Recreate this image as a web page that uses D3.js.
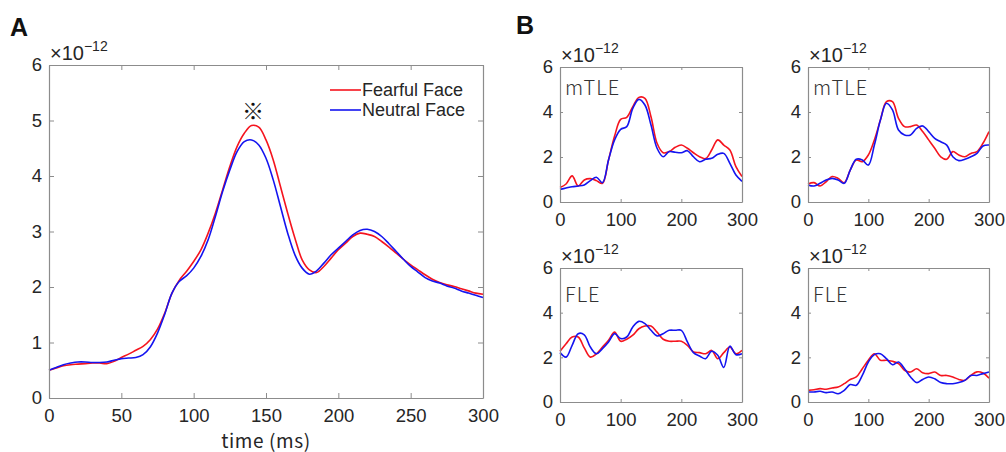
<!DOCTYPE html>
<html><head><meta charset="utf-8">
<script src="https://cdn.jsdelivr.net/npm/d3@7/dist/d3.min.js"></script>
<style>
html,body{margin:0;padding:0;background:#fff;}
svg{display:block;}
</style></head>
<body>
<svg id="chart" width="1006" height="452"></svg>
<script>
// ---------- DATA ----------
const timeA = [0,5,10,15,20,25,30,35,40,45,50,55,60,65,70,75,80,85,90,95,100,105,110,115,120,125,130,135,140,145,150,155,160,165,170,175,180,185,190,195,200,205,210,215,220,225,230,235,240,245,250,255,260,265,270,275,280,285,290,295,300];
const fearfulA = [0.50,0.54,0.58,0.60,0.61,0.62,0.63,0.63,0.62,0.66,0.73,0.79,0.86,0.93,1.05,1.24,1.53,1.89,2.12,2.28,2.46,2.67,2.97,3.33,3.75,4.17,4.53,4.77,4.91,4.88,4.65,4.29,3.81,3.33,2.88,2.49,2.31,2.26,2.37,2.52,2.67,2.79,2.91,2.97,2.95,2.91,2.82,2.72,2.61,2.50,2.40,2.31,2.22,2.14,2.08,2.04,2.01,1.97,1.93,1.89,1.87];
const neutralA = [0.50,0.55,0.60,0.63,0.65,0.65,0.64,0.64,0.65,0.68,0.71,0.72,0.73,0.78,0.92,1.17,1.51,1.89,2.10,2.20,2.34,2.55,2.85,3.27,3.72,4.11,4.44,4.62,4.65,4.56,4.32,3.93,3.45,2.97,2.58,2.34,2.23,2.29,2.43,2.58,2.70,2.82,2.94,3.02,3.04,3.00,2.91,2.78,2.64,2.50,2.37,2.27,2.17,2.11,2.07,2.02,1.98,1.93,1.89,1.85,1.81];

const timeB = [0,10,20,30,40,50,60,70,80,90,100,110,120,130,140,150,160,170,180,190,200,210,220,230,240,250,260,270,280,290,300];
const fearfulB1 = [0.64,0.80,1.16,0.71,0.98,1.04,0.95,0.83,1.87,2.93,3.67,3.76,4.24,4.65,4.61,3.79,2.61,2.19,2.24,2.43,2.53,2.39,2.19,2.01,1.93,2.31,2.76,2.53,2.31,1.57,1.13];
const neutralB1 = [0.56,0.62,0.68,0.71,0.76,0.95,1.10,0.86,1.87,2.76,3.23,3.35,4.16,4.56,4.31,3.42,2.39,2.01,2.24,2.21,2.19,2.28,2.01,1.79,1.90,1.94,2.12,2.16,1.72,1.20,0.92];
const fearfulB2 = [0.80,0.86,0.71,0.90,1.13,1.05,0.86,1.42,1.87,1.79,2.09,2.76,3.64,4.46,4.46,3.72,3.35,3.35,3.42,3.13,2.76,2.39,2.01,1.90,2.24,2.09,2.01,2.16,2.24,2.61,3.13];
const neutralB2 = [0.76,0.71,0.83,0.98,1.05,0.98,0.83,1.42,1.90,1.87,1.64,2.53,3.64,4.39,4.09,3.20,2.98,2.98,3.27,3.38,3.13,2.83,2.68,2.53,2.01,1.84,1.90,2.01,2.16,2.49,2.53];
const fearfulB3 = [2.27,2.61,2.91,2.91,2.42,2.01,2.16,2.46,2.76,3.13,2.72,2.81,2.99,3.28,3.40,3.40,3.13,2.81,2.72,2.72,2.72,2.54,2.24,2.21,2.16,2.31,1.94,2.21,2.46,2.16,2.31];
const neutralB3 = [2.21,2.01,2.54,3.06,3.01,2.46,2.16,2.39,2.69,3.06,2.84,2.91,3.36,3.61,3.51,3.21,2.96,3.06,3.21,3.21,3.21,2.69,2.21,2.06,1.94,2.27,2.09,1.55,2.50,2.12,2.16];
const fearfulB4 = [0.52,0.55,0.60,0.57,0.63,0.67,0.82,1.01,1.12,1.49,1.87,2.16,1.87,1.87,1.82,1.72,1.42,1.34,1.49,1.31,1.27,1.34,1.19,1.19,1.12,1.01,0.97,1.19,1.35,1.30,1.07];
const neutralB4 = [0.45,0.45,0.48,0.42,0.45,0.37,0.52,0.78,0.75,1.19,1.79,2.12,2.16,1.94,1.67,1.79,1.49,1.12,0.87,1.01,1.12,1.04,0.87,0.82,0.82,0.87,0.97,1.19,1.19,1.27,1.34];

const ticksA_x = [0,50,100,150,200,250,300];
const ticksA_y = [0,1,2,3,4,5,6];
const ticksB_x = [0,100,200,300];
const ticksB_y = [0,2,4,6];
const seriesNames = ["Fearful Face","Neutral Face"];
const panelLabels = ["A","B"];
const subLabels = ["mTLE","mTLE","FLE","FLE"];
const xLabel = "time (ms)";
const sigMark = "\u203B";
const sigTime = 141;

// ---------- STYLE ----------
const RED = "#f5141e", BLUE = "#1414f0";
const AXC = "#8c8c8c", TXT = "#262626";
const NUMFONT = "'Liberation Sans', Arial, sans-serif";
const JPFONT = "'Noto Sans CJK JP', 'Noto Sans', sans-serif";

const svg = d3.select("#chart");

function drawPanel(box, times, red, blue, xt, yt, tickLen) {
  const x = d3.scaleLinear().domain([0,300]).range([box.l, box.r]);
  const y = d3.scaleLinear().domain([0,6]).range([box.b, box.t]);
  const g = svg.append("g");

  const line = d3.line().x((d,i)=>x(times[i])).y(d=>y(d)).curve(d3.curveCatmullRom.alpha(0.5));
  g.append("path").datum(red).attr("d", line).attr("fill","none").attr("stroke",RED).attr("stroke-width",1.6);
  g.append("path").datum(blue).attr("d", line).attr("fill","none").attr("stroke",BLUE).attr("stroke-width",1.6);

  const fmt = d3.format("d");
  const bottom = g.append("g").attr("transform",`translate(0,${box.b})`)
    .call(d3.axisBottom(x).tickValues(xt).tickFormat(fmt).tickSizeInner(-tickLen).tickSizeOuter(0).tickPadding(11));
  const left = g.append("g").attr("transform",`translate(${box.l},0)`)
    .call(d3.axisLeft(y).tickValues(yt).tickFormat(fmt).tickSizeInner(-tickLen).tickSizeOuter(0).tickPadding(7));
  const top = g.append("g").attr("transform",`translate(0,${box.t})`)
    .call(d3.axisTop(x).tickValues(xt).tickFormat("").tickSizeInner(-tickLen).tickSizeOuter(0));
  const right = g.append("g").attr("transform",`translate(${box.r},0)`)
    .call(d3.axisRight(y).tickValues(yt).tickFormat("").tickSizeInner(-tickLen).tickSizeOuter(0));
  [bottom,left,top,right].forEach(a=>{
    a.selectAll("path.domain").attr("stroke",AXC).attr("stroke-width",1.2);
    a.selectAll(".tick line").attr("stroke",AXC).attr("stroke-width",1);
    a.selectAll(".tick text").attr("fill",TXT).attr("font-family",NUMFONT).attr("font-size",18.5);
  });

  const ex = g.append("text").attr("x", box.l+1).attr("y", box.t-5)
    .attr("fill",TXT).attr("font-family",NUMFONT).attr("font-size",20);
  ex.append("tspan").text("\u00D710");
  ex.append("tspan").attr("dy",-9).attr("font-size",14).text("\u221212");

  return {x,y,g};
}

// Panel A
const boxA = {l:49, r:483, t:65, b:398};
const pA = drawPanel(boxA, timeA, fearfulA, neutralA, ticksA_x, ticksA_y, 5);
svg.append("text").attr("x",10).attr("y",36).attr("font-family",NUMFONT).attr("font-weight","bold")
  .attr("font-size",25).attr("fill","#111").text(panelLabels[0]);
svg.append("text").attr("x", pA.x(150)).attr("y",448).attr("text-anchor","middle")
  .attr("font-family",JPFONT).attr("font-size",19).attr("letter-spacing",0.6).attr("fill",TXT).text(xLabel);
svg.append("text").attr("x", pA.x(sigTime)).attr("y", 119).attr("text-anchor","middle")
  .attr("font-family",JPFONT).attr("font-size",22).attr("fill","#111").text(sigMark);
const legY = [90,110];
[[RED,seriesNames[0]],[BLUE,seriesNames[1]]].forEach((d,i)=>{
  svg.append("line").attr("x1",330).attr("x2",361).attr("y1",legY[i]).attr("y2",legY[i])
    .attr("stroke",d[0]).attr("stroke-width",1.6);
  svg.append("text").attr("x",362).attr("y",legY[i]+6).attr("font-family",NUMFONT).attr("font-size",18)
    .attr("fill",TXT).text(d[1]);
});

// Panel B
svg.append("text").attr("x",516).attr("y",34).attr("font-family",NUMFONT).attr("font-weight","bold")
  .attr("font-size",25).attr("fill","#111").text(panelLabels[1]);
const boxesB = [
  {l:560, r:742, t:67, b:202, ly:95},
  {l:808, r:989, t:67, b:202, ly:95},
  {l:560, r:742, t:268, b:402, ly:302},
  {l:808, r:989, t:268, b:402, ly:302}
];
const dataB = [[fearfulB1,neutralB1],[fearfulB2,neutralB2],[fearfulB3,neutralB3],[fearfulB4,neutralB4]];
boxesB.forEach((b,i)=>{
  drawPanel(b, timeB, dataB[i][0], dataB[i][1], ticksB_x, ticksB_y, 3);
  svg.append("text").attr("x", b.l+5).attr("y", b.ly).attr("font-family",JPFONT).attr("font-size",20)
    .attr("font-weight",300).attr("letter-spacing",1).attr("fill","#333").text(subLabels[i]);
});
</script>
</body></html>
